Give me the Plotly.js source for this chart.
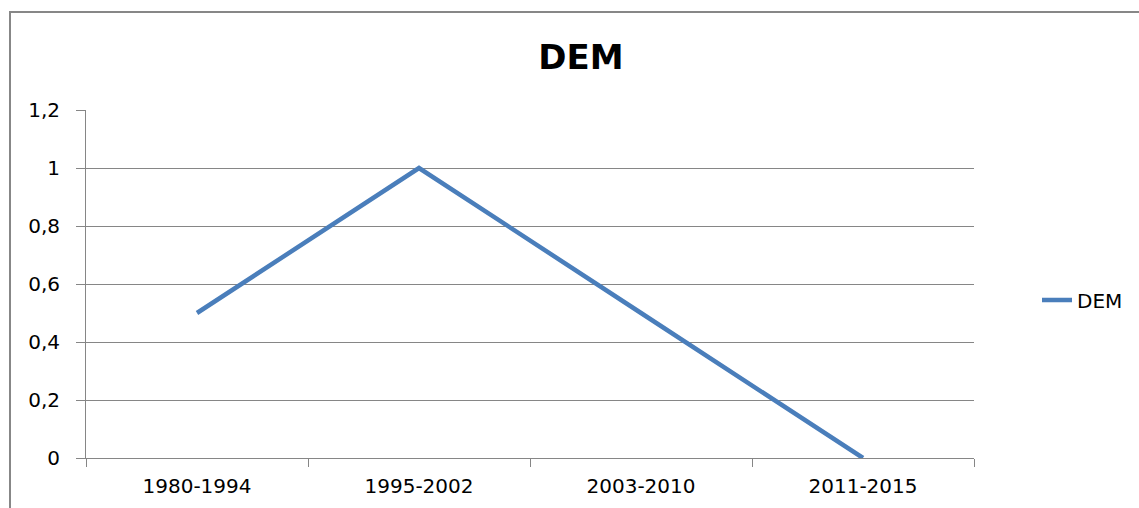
<!DOCTYPE html>
<html>
<head>
<meta charset="utf-8">
<script src="https://cdn.plot.ly/plotly-3.0.1.min.js"></script>
<style>
html,body{margin:0;padding:0;background:#fff;overflow:hidden;}
#wrap{position:relative;width:1139px;height:508px;}
#chart{position:absolute;left:0;top:0;width:1139px;height:508px;}
#frame{position:absolute;left:9px;top:11px;width:1200px;height:600px;border:2px solid #878787;pointer-events:none;box-sizing:border-box;}
</style>
</head>
<body>
<div id="wrap">
<div id="chart"></div>
<div id="frame"></div>
</div>
<script>
const categories = ["1980-1994", "1995-2002", "2003-2010", "2011-2015"];
const demValues = [0.5, 1, 0.5, 0];
const seriesName = "DEM";
const chartTitle = "DEM";
const yTickValues = [0, 0.2, 0.4, 0.6, 0.8, 1, 1.2];

const font = "DejaVu Sans, sans-serif";
const trace = {
  x: categories,
  y: demValues,
  type: "scatter",
  mode: "lines",
  name: seriesName,
  line: {color: "#4a7ebb", width: 4.5}
};

const layout = {
  width: 1139,
  height: 508,
  margin: {l: 86, r: 164, t: 110, b: 50},
  paper_bgcolor: "#ffffff",
  plot_bgcolor: "#ffffff",
  separators: ",.",
  font: {family: font, size: 20, color: "#000"},
  title: {
    text: chartTitle,
    font: {family: font, size: 34, color: "#000", weight: "bold"},
    x: 581/1139, xanchor: "center", xref: "container",
    y: 1 - 57/508, yanchor: "middle", yref: "container"
  },
  xaxis: {
    type: "category",
    range: [-0.5, 3.5],
    tickson: "boundaries",
    ticks: "outside",
    ticklen: 8,
    tickcolor: "#868686",
    tickwidth: 1,
    showline: true,
    linecolor: "#868686",
    linewidth: 1,
    showgrid: false,
    zeroline: false,
    tickfont: {family: font, size: 20, color: "#000"},
    ticklabelstandoff: 10,
    fixedrange: true
  },
  yaxis: {
    range: [0, 1.2],
    tickvals: yTickValues,
    ticks: "outside",
    ticklen: 9,
    tickcolor: "#868686",
    tickwidth: 1,
    showline: true,
    linecolor: "#868686",
    linewidth: 1,
    showgrid: true,
    gridcolor: "#868686",
    gridwidth: 1,
    zeroline: false,
    tickfont: {family: font, size: 20, color: "#000"},
    ticklabelstandoff: 12,
    fixedrange: true
  },
  showlegend: true,
  legend: {
    x: 1 + (1037 - 975)/889,
    xanchor: "left",
    y: (458 - 300)/348,
    yanchor: "middle",
    bgcolor: "rgba(0,0,0,0)",
    borderwidth: 0,
    font: {family: font, size: 20, color: "#000"}
  }
};

Plotly.newPlot("chart", [trace], layout, {displayModeBar: false, staticPlot: true});
</script>
</body>
</html>
